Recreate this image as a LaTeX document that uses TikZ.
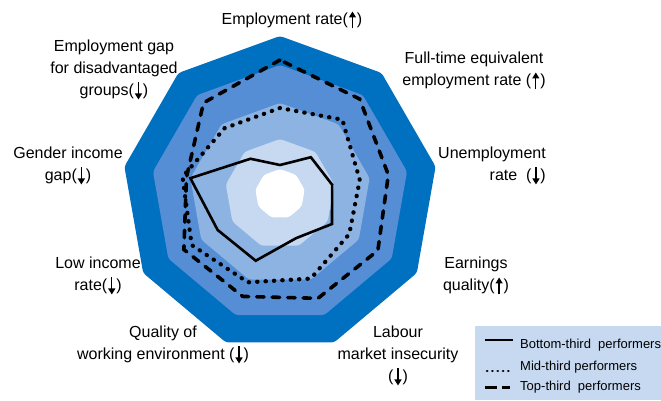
\documentclass[tikz,border=0pt]{standalone}
\usepackage{fontspec}
\setmainfont{Liberation Sans}
\usepackage{tikz}
\usetikzlibrary{calc, arrows.meta}
\definecolor{oecd0}{HTML}{0070C0}
\definecolor{oecd1}{HTML}{558ED5}
\definecolor{oecd2}{HTML}{8DB3E2}
\definecolor{oecd3}{HTML}{C6D9F1}
\newcommand{\uparr}{\tikz[baseline=0pt]{\path (-4.5pt,0pt) (4.5pt,0pt); \draw[line width=1.3pt, -{Triangle[length=6pt, width=7pt]}] (0pt,-4pt) -- (0pt,13pt);}}
\newcommand{\dnarr}{\tikz[baseline=0pt]{\path (-4.5pt,0pt) (4.5pt,0pt); \draw[line width=1.3pt, -{Triangle[length=6pt, width=7pt]}] (0pt,13pt) -- (0pt,-4pt);}}

\begin{document}
\begin{tikzpicture}[x=1pt, y=1pt,
    lbl/.style={align=center, inner sep=0pt, font=\fontsize{16}{22}\selectfont},
    leg/.style={anchor=west, inner sep=0pt, font=\fontsize{13}{15}\selectfont},
    bottomline/.style={line width=2.6pt},
    midline/.style={line width=4.2pt, line cap=round, dash pattern=on 0.4pt off 8pt},
    topline/.style={line width=3.6pt, line cap=round, dash pattern=on 7.5pt off 8pt}]
                      \useasboundingbox (0,0) rectangle (661,400);

                      \begin{scope}[shift={(280,206)}]
                      % bands
                      \foreach \r/\c in {158/oecd0, 129/oecd1, 91/oecd2, 55/oecd3, 25/white}
                        \fill[\c, rounded corners=3pt] (90:\r) -- (130:\r) -- (170:\r) -- (210:\r) -- (250:\r) -- (290:\r) -- (330:\r) -- (10:\r) -- (50:\r) -- cycle;

                      \draw[bottomline] (90:29) -- (130:46) -- (170:91) -- (210:72) -- (250:71) -- (290:47) -- (330:60) -- (10:53) -- (50:48) -- cycle;
                      \draw[midline] (90:86) -- (130:86) -- (170:99) -- (210:102) -- (250:94) -- (290:90) -- (330:80) -- (10:81) -- (50:97) -- cycle;
                      \draw[topline] (90:134) -- (130:119) -- (170:95) -- (210:111) -- (250:109) -- (290:111) -- (330:113) -- (10:110) -- (50:124) -- cycle;
                      \end{scope}

                      % axis labels
                      \node[lbl] (emp) at (292,380) {Employment rate(\uparr)};
                      \node[lbl] (fte) at (474,329) {Full-time equivalent\\employment rate (\uparr)};
                      \node[lbl, anchor=east, align=right] (unemp) at (546,234) {Unemployment\\rate~~(\dnarr)};
                      \node[lbl] (earn) at (476,124) {Earnings\\quality(\uparr)};
                      \node[lbl] (insec) at (398,44) {Labour\\market insecurity\\(\dnarr)};
                      \node[lbl] (qual) at (163,55) {Quality of\\working environment (\dnarr)};
                      \node[lbl] (low) at (98,124) {Low income\\rate(\dnarr)};
                      \node[lbl] (gender) at (68,234) {Gender income\\gap(\dnarr)};
                      \node[lbl] (gap) at (114,330) {Employment gap\\for disadvantaged\\groups(\dnarr)};

                      % legend
                      \fill[oecd3] (475,0) rectangle (661,74);
                      \node[leg] (lb) at (520,55) {Bottom-third~ performers};
                      \node[leg] (lm) at (520,33) {Mid-third performers};
                      \node[leg] (lt) at (520,13) {Top-third~ performers};
                      \draw[line width=2.6pt] ([xshift=-35pt,yshift=5pt]lb.west) -- ([xshift=-7pt,yshift=5pt]lb.west);
                      \draw[line width=2.6pt, line cap=round, dash pattern=on 0.3pt off 5pt] ([xshift=-33pt,yshift=-4pt]lm.west) -- ([xshift=-10pt,yshift=-4pt]lm.west);
                      \draw[line width=3pt, dash pattern=on 12pt off 5pt] ([xshift=-35pt]lt.west) -- ([xshift=-10pt]lt.west);

                    \end{tikzpicture}
\end{document}
